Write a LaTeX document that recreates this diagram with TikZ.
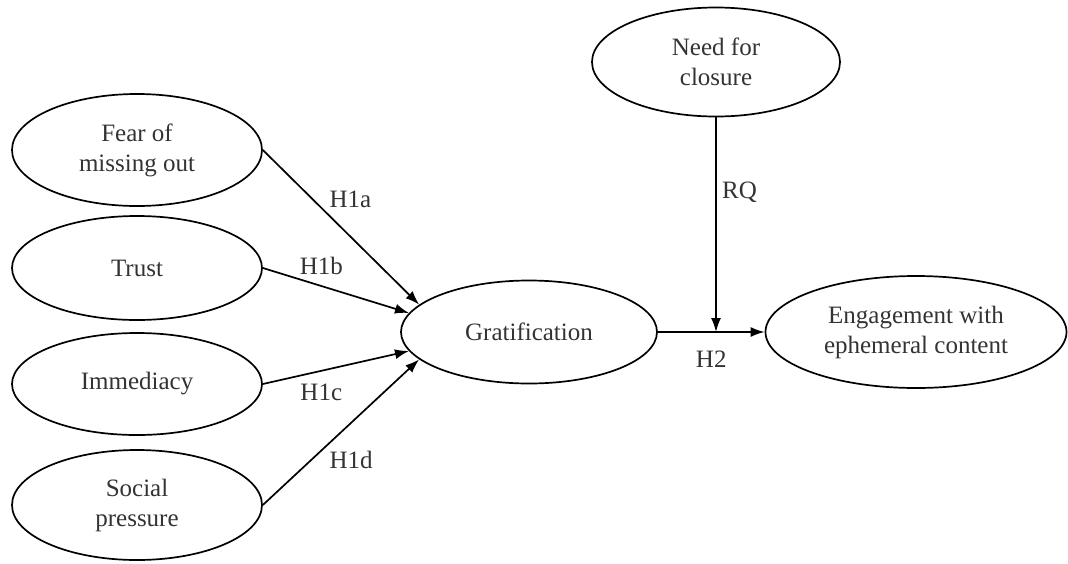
\documentclass[tikz,border=0pt]{standalone}
\usepackage{fontspec}
\setmainfont{Liberation Serif}
\usetikzlibrary{positioning,arrows.meta}
\usetikzlibrary{shapes.geometric}

\begin{document}
\begin{tikzpicture}[x=1pt,y=-1pt]
	\useasboundingbox (0,0) rectangle (1068,563);
	\tikzstyle{every node}=[font=\fontsize{25}{30}\selectfont, text=black!80, ellipse, draw, line width=1.7pt, inner sep=0pt, align=center]
	\draw (137,150) node (fomo) [minimum width=250pt, minimum height=112pt]{Fear of\\missing out};
	\draw (137,268) node (trust) [minimum width=250pt, minimum height=104pt]{Trust};
	\draw (137,384) node (immed) [minimum width=250pt, minimum height=102pt]{Immediacy};
	\draw (137,505) node (social) [minimum width=250pt, minimum height=110pt]{Social\\pressure};
	\draw (529,332) node (grat) [minimum width=256pt, minimum height=103pt]{Gratification};
	\draw (716,62) node (need) [minimum width=248pt, minimum height=109pt]{Need for\\closure};
	\draw (916,332) node (eng) [minimum width=301pt, minimum height=112pt]{Engagement with\\ephemeral content};
	\tikzstyle{every node}=[font=\fontsize{25}{30}\selectfont, text=black!80]
	\tikzstyle{link}=[line width=1.7pt, -{Latex[length=14pt,width=10pt]}]
	\draw [link] (fomo.east) to node[above right, pos=0.4] {H1a} (grat.166);
	\draw [link] (trust.east) to node[above=7pt, pos=0.4] {H1b} (grat.171);
	\draw [link] (immed.east) to node[below=9pt, pos=0.4] {H1c} (grat.189);
	\draw [link] (social.east) to node[below right, pos=0.4] {H1d} (grat.194);
	\coordinate (join) at (need.south |- grat.east);
	\draw [link] (grat.east) to node[below=15pt] {H2} (eng.west);
	\draw [link] (need.south) to node[right=2pt, pos=0.35] {RQ} (join);
\end{tikzpicture}
\end{document}
